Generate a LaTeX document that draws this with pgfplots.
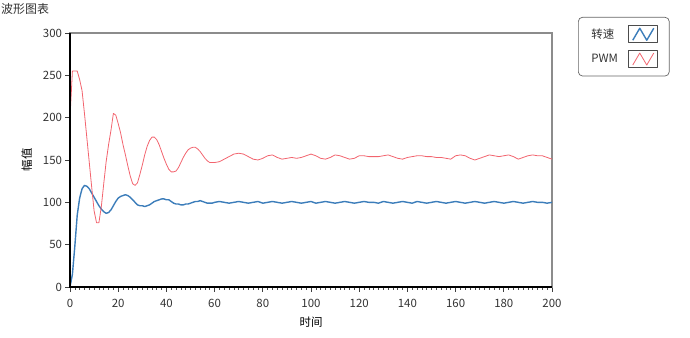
\documentclass[border=0pt]{standalone}
\usepackage{pgfplots}
\pgfplotsset{compat=1.18}
\usepackage{fontspec}
\setmainfont{Noto Sans CJK SC}
\definecolor{sblue}{HTML}{3C7DBA}
\definecolor{pred}{HTML}{F2646E}
\definecolor{txt}{HTML}{333333}
\begin{document}
\begin{tikzpicture}
\path[use as bounding box] (-70bp,-51bp) rectangle (620bp,287bp);
\node[anchor=north west, inner sep=0pt, font=\fontsize{12}{14}\selectfont, text=txt] at (-69bp,284bp) {波形图表};
\begin{axis}[
  at={(0,0)}, anchor=south west,
  scale only axis, width=482bp, height=254bp,
  xmin=0, xmax=200, ymin=0, ymax=300,
  xtick={0,20,...,200}, ytick={0,50,...,300},
  minor x tick num=9,
  xtick pos=bottom, ytick pos=left,
  tick align=outside,
  major tick length=4.5bp, minor tick length=2.5bp,
  tick style={black!75, line width=0.8bp},
  minor tick style={black!70, line width=0.6bp},
  axis line style={black!45, line width=1.3bp},
  tick label style={font=\fontsize{11.5}{13}\selectfont, text=txt},
  /pgf/number format/assume math mode=true,
  xticklabel style={yshift=-4bp},
  xlabel={时间}, ylabel={幅值},
  label style={font=\fontsize{11.5}{13}\selectfont, text=black},
  xlabel style={yshift=-3bp},
  ylabel style={yshift=4bp},
  legend plot pos=right,
  legend cell align=left,
  legend style={at={(1.054,1.063)}, anchor=north west, draw=black!60, line width=0.7bp,
    rounded corners=4bp, inner xsep=11bp, inner ysep=8bp, row sep=7bp,
    font=\fontsize{11.5}{13}\selectfont, text=txt},
  legend image code/.code={
    \draw[black!70, line width=0.8bp, fill=white, sharp corners] (0bp,-8.5bp) rectangle (29bp,8.5bp);
    \draw[#1, sharp corners] (4bp,-6bp) -- (11bp,6bp) -- (18bp,-6bp) -- (25bp,6bp);
  },
  after end axis/.code={
    \draw[black, line width=1.3bp] (rel axis cs:0,1) -- (rel axis cs:0,0) -- (rel axis cs:1,0);
  },
]
\addplot[sblue, line width=1.4bp, line join=round] coordinates {
(0,0) (1,15) (2,48) (3,85) (4,105) (5,116) (6,120) (7,119) (8,116) (9,111) (10,106)
(11,101) (12,96) (13,92) (14,89) (15,87) (16,88) (17,91) (18,96) (19,101) (20,105)
(21,107) (22,108) (23,109) (24,108) (25,106) (26,103) (27,100) (28,97) (29,96) (30,96)
(31,95) (32,96) (33,97) (34,99) (35,101) (36,102) (37,103) (38,104) (39,104) (40,103)
(41,103) (42,101) (43,99) (44,98) (45,98) (46,97) (47,97) (48,98) (49,98) (50,99)
(51,100) (52,101) (53,101) (54,102) (55,101) (56,100) (57,99) (58,99) (59,99) (60,100)
(62,101) (64,100) (66,99) (68,100) (70,101) (72,100) (74,99) (76,100) (78,101) (80,99)
(82,100) (84,101) (86,100) (88,99) (90,100) (92,101) (94,100) (96,99) (98,100) (100,101)
(102,99) (104,100) (106,101) (108,100) (110,99) (112,100) (114,101) (116,100) (118,99) (120,100)
(122,101) (124,100) (126,100) (128,99) (130,101) (132,100) (134,99) (136,100) (138,101) (140,100)
(142,99) (144,101) (146,100) (148,99) (150,100) (152,101) (154,100) (156,99) (158,100) (160,101)
(162,100) (164,99) (166,100) (168,101) (170,100) (172,99) (174,100) (176,101) (178,100) (180,99)
(182,100) (184,101) (186,100) (188,99) (190,100) (192,101) (194,100) (196,100) (198,99) (200,100)
};
\addlegendentry{\makebox[35bp][l]{转速}}
\addplot[pred, line width=0.8bp, line join=round] coordinates {
(0,200) (1,255) (2,255) (3,255) (4,245) (5,232) (6,205) (7,176) (8,147) (9,118) (10,90)
(11,76) (12,76) (13,95) (14,122) (15,148) (16,168) (17,185) (18,205) (19,203) (20,193)
(21,182) (22,168) (23,156) (24,143) (25,131) (26,122) (27,120) (28,123) (29,133) (30,144)
(31,156) (32,166) (33,173) (34,177) (35,177) (36,174) (37,168) (38,160) (39,152) (40,145)
(41,139) (42,136) (43,136) (44,137) (45,141) (46,147) (47,153) (48,158) (49,162) (50,164)
(51,165) (52,165) (53,163) (54,160) (55,156) (56,152) (57,149) (58,147) (59,147) (60,147)
(62,148) (64,151) (66,154) (68,157) (70,158) (72,157) (74,154) (76,151) (78,150) (80,152)
(82,155) (84,156) (86,153) (88,151) (90,152) (92,153) (94,152) (96,153) (98,155) (100,157)
(102,155) (104,152) (106,151) (108,153) (110,156) (112,155) (114,153) (116,151) (118,152) (120,155)
(122,155) (124,154) (126,154) (128,154) (130,155) (132,156) (134,154) (136,152) (138,151) (140,153)
(142,154) (144,155) (146,155) (148,154) (150,154) (152,153) (154,153) (156,152) (158,151) (160,155)
(162,156) (164,155) (166,152) (168,150) (170,152) (172,154) (174,156) (176,155) (178,154) (180,155)
(182,156) (184,154) (186,151) (188,153) (190,155) (192,156) (194,155) (196,155) (198,153) (200,151)
};
\addlegendentry{\makebox[35bp][l]{PWM}}
\end{axis}
\end{tikzpicture}
\end{document}
